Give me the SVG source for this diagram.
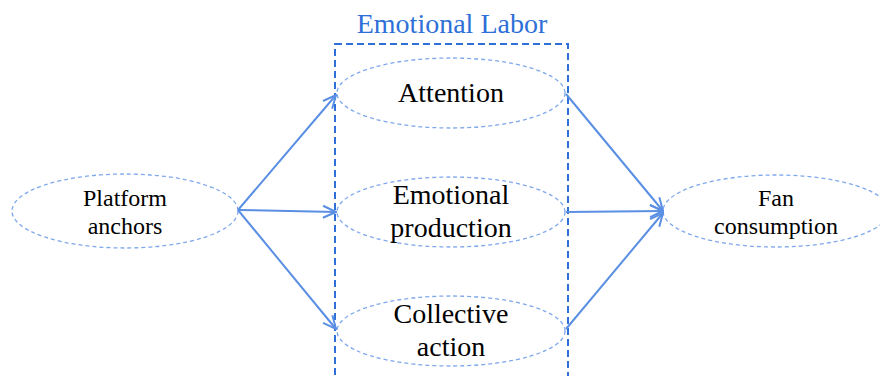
<svg xmlns="http://www.w3.org/2000/svg" width="880" height="376" viewBox="0 0 880 376">
<defs>
<style>
.node ellipse{fill:#fff;stroke:#7FA8EC;stroke-width:1.3;stroke-dasharray:4 3}
.t{font-family:"Liberation Serif","Times New Roman",serif;fill:#000;text-anchor:middle}
.big{font-size:28px}
.small{font-size:24px}
.title{font-family:"Liberation Serif","Times New Roman",serif;font-size:28px;fill:#2E6FD8;text-anchor:middle}
.edge{stroke:#5A8FE3;stroke-width:2;fill:none;marker-end:url(#ah)}
</style>
<marker id="ah" viewBox="0 0 16 16" refX="15" refY="8" markerWidth="16" markerHeight="16" markerUnits="userSpaceOnUse" orient="auto">
<polyline points="2,2 15,8 2,14" fill="none" stroke="#5A8FE3" stroke-width="2"/>
</marker>
</defs>
<rect width="880" height="376" fill="#fff"/>
<g id="group-emotional-labor">
<rect x="335" y="44" width="233" height="345" fill="none" stroke="#2E6FD8" stroke-width="2" stroke-dasharray="7 4"/>
<text class="title" x="452" y="33">Emotional Labor</text>
</g>
<g id="platform-anchors" class="node">
<ellipse cx="125" cy="211" rx="113" ry="37"/>
<text class="t small" x="125" y="206">Platform</text>
<text class="t small" x="125" y="234">anchors</text>
</g>
<g id="attention" class="node">
<ellipse cx="451" cy="93" rx="114" ry="35"/>
<text class="t big" x="451" y="102">Attention</text>
</g>
<g id="emotional-production" class="node">
<ellipse cx="451" cy="212" rx="114" ry="35"/>
<text class="t big" x="451" y="204">Emotional</text>
<text class="t big" x="451" y="237">production</text>
</g>
<g id="collective-action" class="node">
<ellipse cx="451" cy="331" rx="114" ry="35"/>
<text class="t big" x="451" y="323">Collective</text>
<text class="t big" x="451" y="356">action</text>
</g>
<g id="fan-consumption" class="node">
<ellipse cx="776" cy="211" rx="113" ry="36"/>
<text class="t small" x="776" y="206">Fan</text>
<text class="t small" x="776" y="234">consumption</text>
</g>
<g id="connectors">
<line class="edge" x1="238" y1="210" x2="336" y2="95"/>
<line class="edge" x1="238" y1="210" x2="336" y2="212"/>
<line class="edge" x1="238" y1="210" x2="336" y2="329"/>
<line class="edge" x1="566" y1="94" x2="663" y2="211"/>
<line class="edge" x1="566" y1="212" x2="663" y2="211"/>
<line class="edge" x1="566" y1="329" x2="663" y2="213"/>
</g>
</svg>
